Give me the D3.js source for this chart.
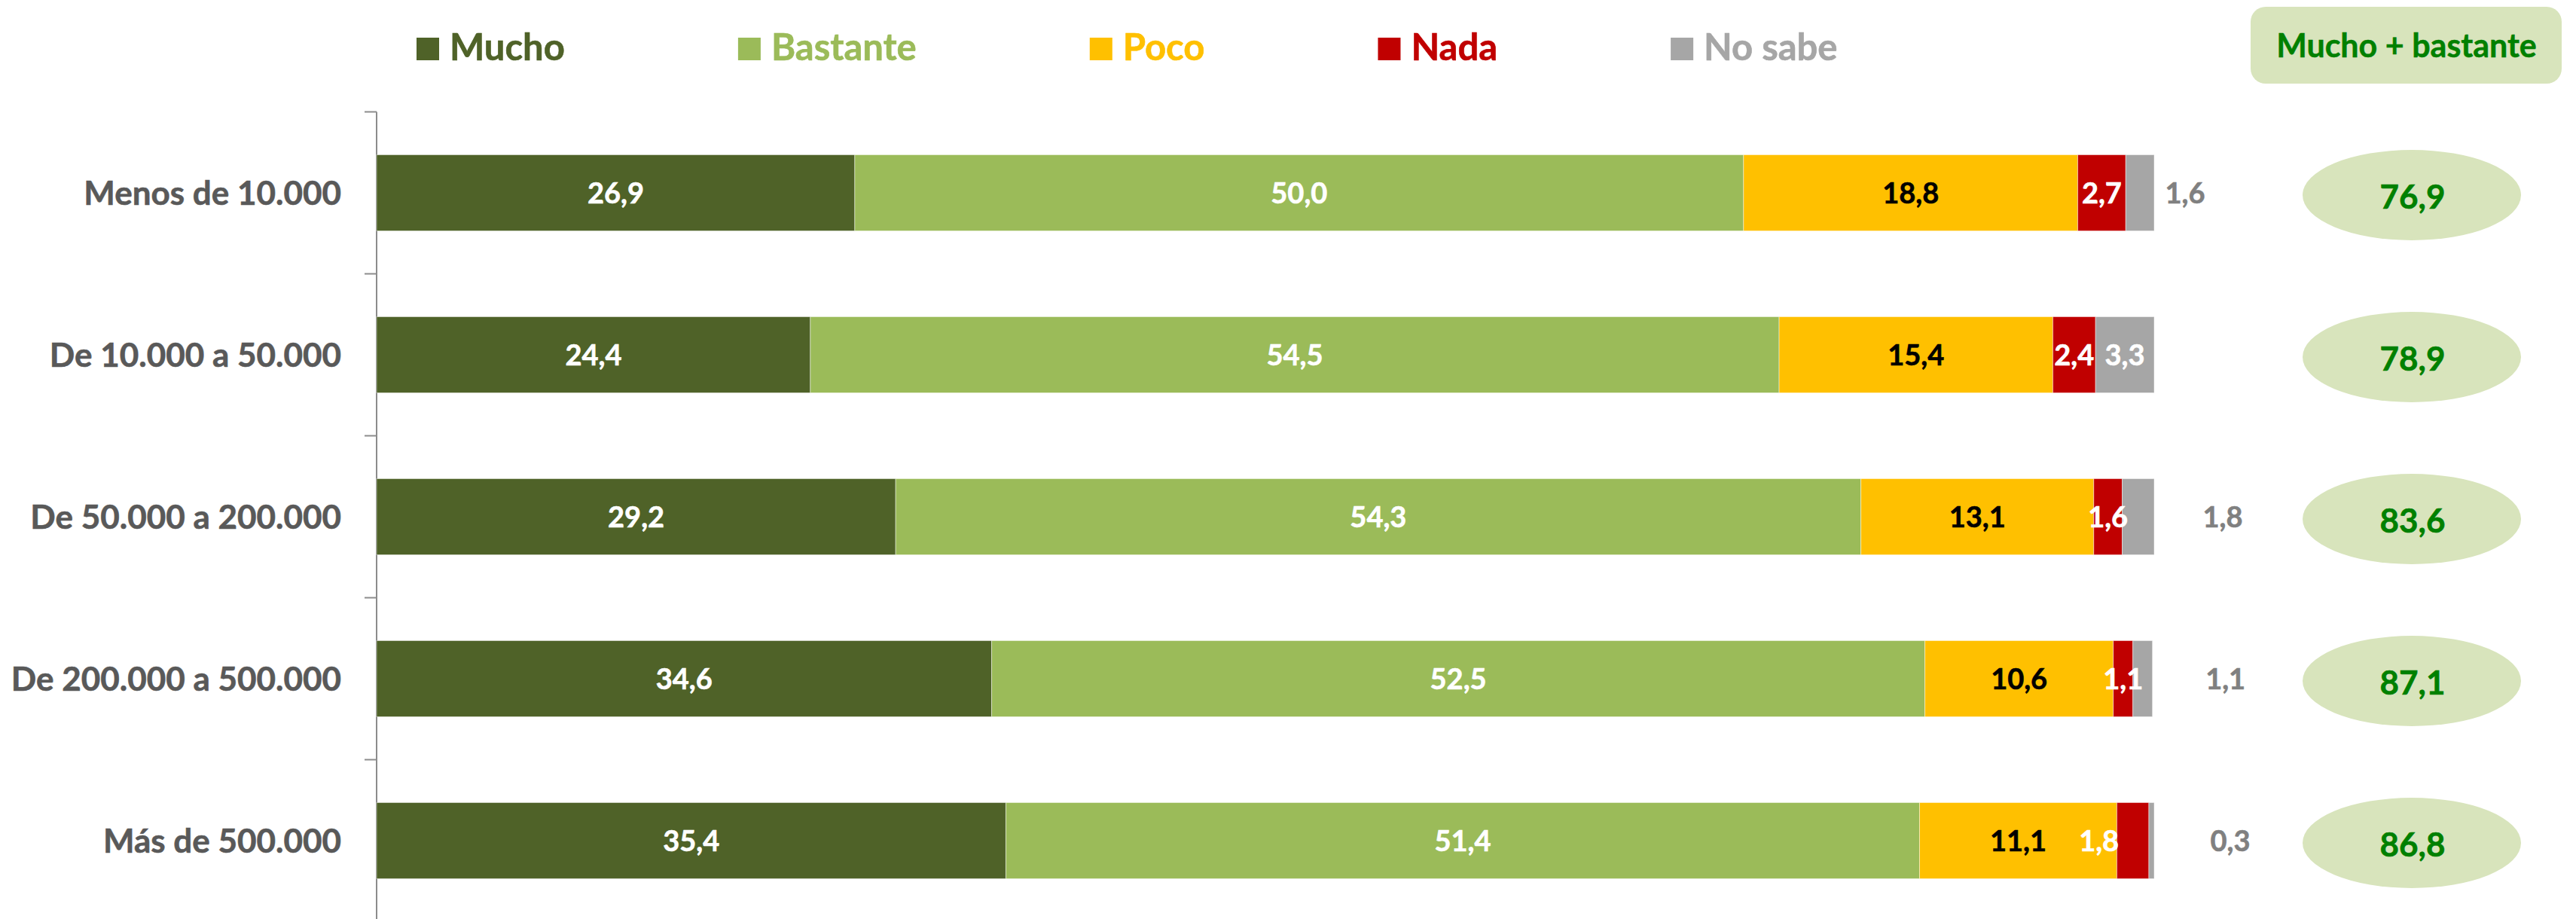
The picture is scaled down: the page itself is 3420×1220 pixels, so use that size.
<!DOCTYPE html>
<html>
<head>
<meta charset="utf-8">
<script src="https://cdn.jsdelivr.net/npm/d3@7"></script>
<style>
  html, body { margin: 0; padding: 0; background: #ffffff; }
  svg { display: block; }
  text { font-family: Lato, "Open Sans", sans-serif; font-weight: 700; }
</style>
</head>
<body>
<svg id="chart" width="3420" height="1220"></svg>
<script>
// ---------- data ----------
const categories = ["Menos de 10.000", "De 10.000 a 50.000", "De 50.000 a 200.000", "De 200.000 a 500.000", "Más de 500.000"];
const seriesNames = ["Mucho", "Bastante", "Poco", "Nada", "No sabe"];
const mucho    = [26.9, 24.4, 29.2, 34.6, 35.4];
const bastante = [50.0, 54.5, 54.3, 52.5, 51.4];
const poco     = [18.8, 15.4, 13.1, 10.6, 11.1];
const nada     = [2.7, 2.4, 1.6, 1.1, 1.8];
const noSabe   = [1.6, 3.3, 1.8, 1.1, 0.3];
const muchoBastante = [76.9, 78.9, 83.6, 87.1, 86.8];
const summaryTitle = "Mucho + bastante";

// ---------- styles / layout ----------
const colors = ["#4f6228", "#9bbb59", "#ffc000", "#c00000", "#a6a6a6"];
const labelColors = ["#ffffff", "#ffffff", "#000000", "#ffffff", "#ffffff"];
const outsideLabelColor = "#808080";
const noSabeOutsideDx = [41, 0, 91, 97, 101];
const nadaLabelDx = [0, 0, 0, 0, -45];

const svg = d3.select("#chart");
const table = categories.map((c, i) => ({
  cat: c, Mucho: mucho[i], Bastante: bastante[i], Poco: poco[i], Nada: nada[i], "No sabe": noSabe[i]
}));
const stacked = d3.stack().keys(seriesNames)(table);

const x = d3.scaleLinear().domain([0, 100]).range([500, 2860]);
const y = d3.scaleBand().domain(categories).range([148.5, 1223.5]).paddingInner(0.53).paddingOuter(0.265);
const bw = y.bandwidth();
const gapHalf = (y.step() - bw) / 2;
const fmt = v => d3.format(".1f")(v).replace(".", ",");

// ---------- axis ----------
const axisG = svg.append("g");
axisG.append("line").attr("x1", 500).attr("x2", 500).attr("y1", y.range()[0]).attr("y2", y.range()[1])
  .attr("stroke", "#8c8c8c").attr("stroke-width", 2);
const tickYs = [y.range()[0]].concat(categories.map(c => y(c) + bw + gapHalf));
axisG.selectAll("line.tick").data(tickYs).enter().append("line").attr("class", "tick")
  .attr("x1", 484).attr("x2", 500).attr("y1", d => d).attr("y2", d => d)
  .attr("stroke", "#8c8c8c").attr("stroke-width", 2);

svg.append("g").selectAll("text").data(categories).enter().append("text")
  .attr("x", 453).attr("y", d => y(d) + bw / 2)
  .attr("dy", "0.36em").attr("text-anchor", "end")
  .attr("font-size", 44).attr("fill", "#595959")
  .attr("stroke", "#595959").attr("stroke-width", 0.6).text(d => d);

// ---------- bars ----------
const layers = svg.append("g").selectAll("g").data(stacked).enter().append("g")
  .attr("fill", (d, i) => colors[i]);
layers.selectAll("rect").data(d => d).enter().append("rect")
  .attr("x", d => x(d[0])).attr("width", d => x(d[1]) - x(d[0]))
  .attr("y", d => y(d.data.cat)).attr("height", bw)
  .attr("stroke", "rgba(255,255,255,0.45)").attr("stroke-width", 1);

// ---------- value labels ----------
const labelG = svg.append("g");
stacked.forEach((layer, si) => {
  layer.forEach((d, ri) => {
    const v = d[1] - d[0];
    const w = x(d[1]) - x(d[0]);
    let cx = (x(d[0]) + x(d[1])) / 2;
    let fill = labelColors[si];
    if (seriesNames[si] === "No sabe" && w < 50) {
      cx = x(d[1]) + noSabeOutsideDx[ri];
      fill = outsideLabelColor;
    }
    if (seriesNames[si] === "Nada") cx += nadaLabelDx[ri];
    labelG.append("text")
      .attr("x", cx).attr("y", y(d.data.cat) + bw / 2)
      .attr("dy", "0.36em").attr("text-anchor", "middle")
      .attr("font-size", 38).attr("fill", fill)
      .attr("stroke", fill).attr("stroke-width", 0.6).text(fmt(v));
  });
});

// ---------- legend ----------
const legendG = svg.append("g");
let lx = 553;
seriesNames.forEach((s, i) => {
  legendG.append("rect").attr("x", lx).attr("y", 50).attr("width", 30).attr("height", 30).attr("fill", colors[i]);
  const t = legendG.append("text").attr("x", lx + 44).attr("y", 80)
    .attr("font-size", 49).attr("fill", colors[i])
    .attr("stroke", colors[i]).attr("stroke-width", 0.6).text(s);
  lx += 44 + t.node().getComputedTextLength() + 230;
});

// ---------- summary column ----------
svg.append("rect").attr("x", 2988).attr("y", 9).attr("width", 413).attr("height", 102)
  .attr("rx", 20).attr("ry", 20).attr("fill", "#d8e4bc");
svg.append("text").attr("x", 3195).attr("y", 76).attr("text-anchor", "middle")
  .attr("font-size", 43).attr("fill", "#008000")
  .attr("stroke", "#008000").attr("stroke-width", 0.5).text(summaryTitle);

const sumG = svg.append("g").selectAll("g").data(muchoBastante).enter().append("g");
sumG.append("ellipse")
  .attr("cx", 3202).attr("cy", (d, i) => y(categories[i]) + bw / 2 + 3)
  .attr("rx", 145).attr("ry", 60).attr("fill", "#d8e4bc");
sumG.append("text")
  .attr("x", 3203).attr("y", (d, i) => y(categories[i]) + bw / 2 + 5)
  .attr("dy", "0.36em").attr("text-anchor", "middle")
  .attr("font-size", 44).attr("fill", "#008000")
  .attr("stroke", "#008000").attr("stroke-width", 0.6).text(d => fmt(d));
</script>
</body>
</html>
